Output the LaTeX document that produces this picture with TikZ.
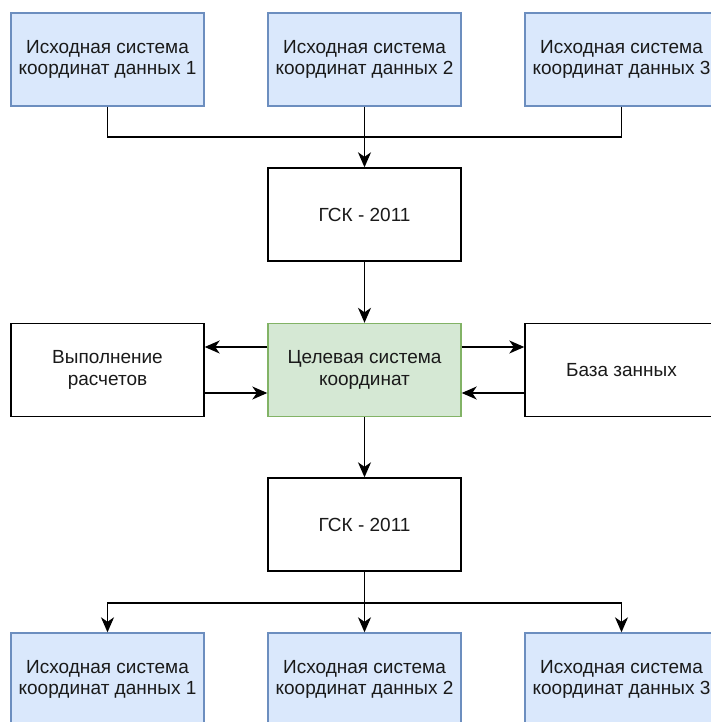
\documentclass[tikz,border=0pt]{standalone}
\usepackage{fontspec}
\setmainfont{Liberation Sans}
\usetikzlibrary{arrows.meta}
\definecolor{bluefill}{HTML}{DAE8FC}
\definecolor{bluedraw}{HTML}{6C8EBF}
\definecolor{greenfill}{HTML}{D5E8D4}
\definecolor{greendraw}{HTML}{82B366}
\definecolor{txt}{HTML}{1A1A1A}
\tikzset{
  box/.style={draw=black, line width=1.4pt, minimum width=193pt, minimum height=93pt,
    align=center, inner sep=0pt, text=txt, font=\fontsize{19}{21.5}\selectfont},
  srcbox/.style={box, draw=bluedraw, fill=bluefill},
  tgtbox/.style={box, draw=greendraw, fill=greenfill},
  conn/.style={draw=black, line width=1.4pt},
  arr/.style={conn, -{Stealth[length=15pt,width=13pt,inset=4.5pt]}}
}
\begin{document}
\begin{tikzpicture}[x=1pt,y=-1pt]
\path[use as bounding box, clip] (0,0) rectangle (711,722);
\fill[white] (0,0) rectangle (711,722);
% top row
\node[srcbox] (t1) at (107.5,59.5) {Исходная система\\координат данных 1};
\node[srcbox] (t2) at (364.5,59.5) {Исходная система\\координат данных 2};
\node[srcbox] (t3) at (621.5,59.5) {Исходная система\\координат данных 3};
% middle
\node[box] (g1) at (364.5,214.5) {ГСК - 2011};
\node[tgtbox] (tg) at (364.5,370) {Целевая система\\координат};
\node[box] (lf) at (107.5,370) {Выполнение\\расчетов};
\node[box] (rt) at (621.5,370) {База занных};
\node[box] (g2) at (364.5,524.5) {ГСК - 2011};
% bottom row
\node[srcbox] (b1) at (107.5,679.5) {Исходная система\\координат данных 1};
\node[srcbox] (b2) at (364.5,679.5) {Исходная система\\координат данных 2};
\node[srcbox] (b3) at (621.5,679.5) {Исходная система\\координат данных 3};
% junctions
\coordinate (j1) at (364.5,137);
\coordinate (j2) at (364.5,603);
% connectors top
\draw[conn] (t1.south) |- (j1);
\draw[conn] (t3.south) |- (j1);
\draw[arr] (t2.south) -- (g1.north);
\draw[arr] (g1.south) -- (tg.north);
% side
\draw[arr] ([yshift=23pt]tg.west) -- ([yshift=23pt]lf.east);
\draw[arr] ([yshift=-23pt]lf.east) -- ([yshift=-23pt]tg.west);
\draw[arr] ([yshift=23pt]tg.east) -- ([yshift=23pt]rt.west);
\draw[arr] ([yshift=-23pt]rt.west) -- ([yshift=-23pt]tg.east);
% bottom
\draw[arr] (tg.south) -- (g2.north);
\draw[arr] (g2.south) -- (b2.north);
\draw[arr] (j2) -| (b1.north);
\draw[arr] (j2) -| (b3.north);
\end{tikzpicture}
\end{document}
